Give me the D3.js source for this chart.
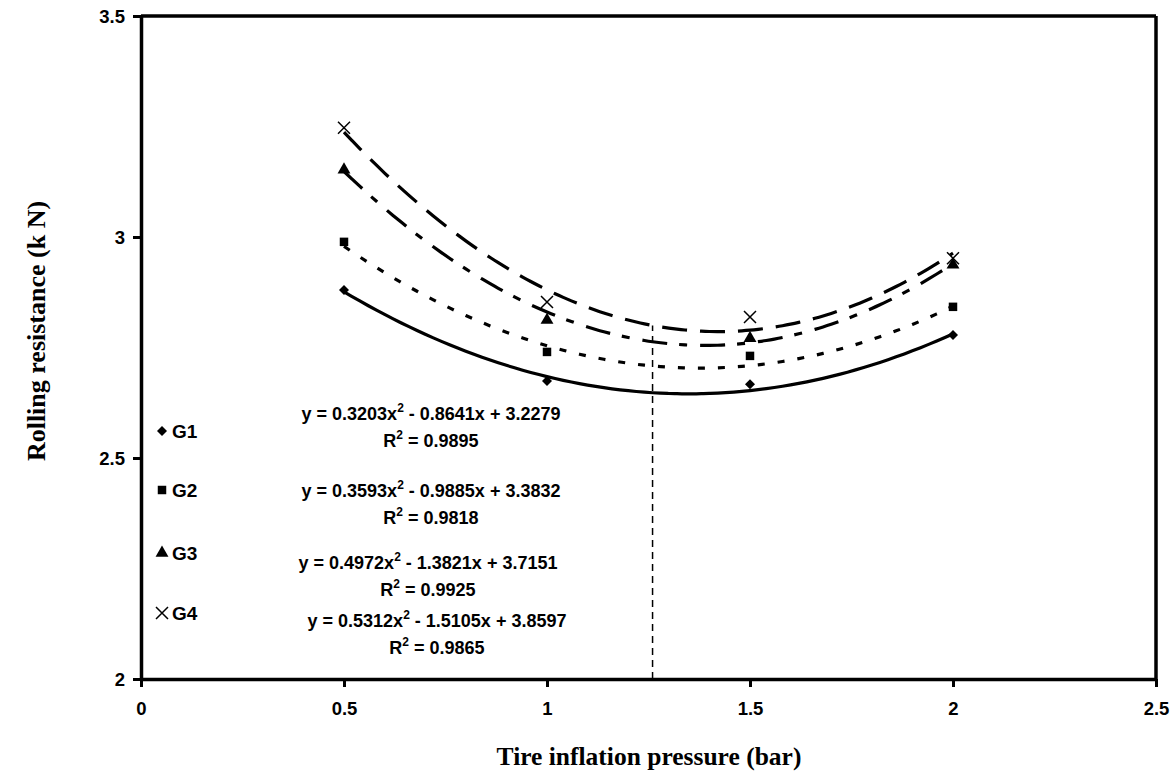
<!DOCTYPE html>
<html>
<head>
<meta charset="utf-8">
<script src="https://cdn.jsdelivr.net/npm/d3@7"></script>
<style>
  html,body{margin:0;padding:0;background:#fff;}
  svg{display:block;}
  .tick text{font-family:Arial,"Liberation Sans",sans-serif;font-weight:bold;font-size:18.5px;fill:#000;}
</style>
</head>
<body>
<div id="chart"></div>
<script>
// ---- data ----
const pressure = [0.5, 1, 1.5, 2];
const seriesNames = ["G1", "G2", "G3", "G4"];
const g1 = [2.880, 2.674, 2.667, 2.778];
const g2 = [2.989, 2.740, 2.731, 2.842];
const g3 = [3.152, 2.812, 2.771, 2.937];
const g4 = [3.247, 2.853, 2.819, 2.952];
// trend coefficients a,b,c (y = a x^2 + b x + c) and R^2 as printed
const coefA = [0.3203, 0.3593, 0.4972, 0.5312];
const coefB = [-0.8641, -0.9885, -1.3821, -1.5105];
const coefC = [3.2279, 3.3832, 3.7151, 3.8597];
const rSquared = [0.9895, 0.9818, 0.9925, 0.9865];
const xTicks = [0, 0.5, 1, 1.5, 2, 2.5];
const yTicks = [2, 2.5, 3, 3.5];
const optimumX = 1.26, optimumTop = 2.8;

const W = 1175, H = 783;
const MG = {t:16, r:19, b:104, l:141};
const iW = W - MG.l - MG.r, iH = H - MG.t - MG.b;

const svg = d3.select("#chart").append("svg").attr("width", W).attr("height", H);
const g = svg.append("g").attr("transform", `translate(${MG.l},${MG.t})`);

const x = d3.scaleLinear().domain([0, 2.5]).range([0, iW]);
const y = d3.scaleLinear().domain([2, 3.5]).range([iH, 0]);

// frame (top + right)
g.append("line").attr("x1",0).attr("x2",iW).attr("y1",0).attr("y2",0)
  .attr("stroke","#000").attr("stroke-width",3.5);
g.append("line").attr("x1",iW).attr("x2",iW).attr("y1",0).attr("y2",iH)
  .attr("stroke","#000").attr("stroke-width",3.5);

// axes
const xa = g.append("g").attr("transform",`translate(0,${iH})`)
  .call(d3.axisBottom(x).tickValues(xTicks).tickSize(8).tickSizeOuter(0).tickPadding(15).tickFormat(d=>d));
const ya = g.append("g")
  .call(d3.axisLeft(y).tickValues(yTicks).tickSize(8).tickSizeOuter(0).tickPadding(8).tickFormat(d=>d));
[xa, ya].forEach(a => {
  a.select(".domain").attr("stroke-width",3.5);
  a.selectAll(".tick line").attr("stroke-width",3);
});
ya.selectAll(".tick text").attr("dy","0.36em");

// optimum marker line
g.append("line")
  .attr("x1",x(optimumX)).attr("x2",x(optimumX))
  .attr("y1",y(2)).attr("y2",y(optimumTop))
  .attr("stroke","#000").attr("stroke-width",1.5).attr("stroke-dasharray","7,5");

// trend lines
const dashes = [null, "7,13", "25,12,8,13", "25,13"];
const xs = d3.range(0.5, 2.0001, 0.02);
coefA.forEach((a, i) => {
  const pts = xs.map(v => [v, a*v*v + coefB[i]*v + coefC[i]]);
  g.append("path").datum(pts)
    .attr("fill","none").attr("stroke","#000").attr("stroke-width",3.2)
    .attr("stroke-dasharray", dashes[i])
    .attr("d", d3.line().x(d=>x(d[0])).y(d=>y(d[1])).curve(d3.curveBasis));
});

// markers
function marker(sel, k) {
  if (k === 0) sel.append("path").attr("d", d3.symbol(d3.symbolSquare, 50)()).attr("transform","rotate(45)").attr("fill","#000");
  else if (k === 1) sel.append("path").attr("d", d3.symbol(d3.symbolSquare, 72)()).attr("fill","#000");
  else if (k === 2) sel.append("path").attr("d", d3.symbol(d3.symbolTriangle, 72)()).attr("fill","#000");
  else sel.append("path").attr("d","M-6,-6L6,6M-6,6L6,-6").attr("stroke","#000").attr("stroke-width",1.5).attr("fill","none");
}
[g1, g2, g3, g4].forEach((vals, k) => {
  vals.forEach((v, j) => {
    const m = g.append("g").attr("transform",`translate(${x(pressure[j])},${y(v)})`);
    marker(m, k);
  });
});

// legend (left side, inside plot)
const legY = [438, 497, 560, 620];
seriesNames.forEach((n, k) => {
  const m = svg.append("g").attr("transform",`translate(162,${legY[k]-7})`);
  marker(m, k);
  svg.append("text").attr("x",172).attr("y",legY[k])
    .attr("font-family","Arial, 'Liberation Sans', sans-serif").attr("font-weight","bold").attr("font-size",19)
    .text(n);
});

// equations
const eqX = [431, 431, 428, 437];
const eqY = [420, 497, 569, 627];
coefA.forEach((a, i) => {
  const t = svg.append("text").attr("x",eqX[i]).attr("y",eqY[i]).attr("text-anchor","middle")
    .attr("font-family","Arial, 'Liberation Sans', sans-serif").attr("font-weight","bold").attr("font-size",18);
  t.append("tspan").text(`y = ${a.toFixed(4)}x`);
  t.append("tspan").attr("dy",-8).attr("font-size",12).text("2");
  t.append("tspan").attr("dy",8).text(` - ${Math.abs(coefB[i]).toFixed(4)}x + ${coefC[i].toFixed(4)}`);
  const r = svg.append("text").attr("x",eqX[i]).attr("y",eqY[i]+27).attr("text-anchor","middle")
    .attr("font-family","Arial, 'Liberation Sans', sans-serif").attr("font-weight","bold").attr("font-size",18);
  r.append("tspan").text("R");
  r.append("tspan").attr("dy",-8).attr("font-size",12).text("2");
  r.append("tspan").attr("dy",8).text(` = ${rSquared[i].toFixed(4)}`);
});

// axis titles
svg.append("text").attr("x",649).attr("y",765).attr("text-anchor","middle")
  .attr("font-family","'Times New Roman','Liberation Serif',serif").attr("font-weight","bold").attr("font-size",25.5)
  .text("Tire inflation pressure (bar)");
svg.append("text").attr("transform","translate(45,331) rotate(-90)").attr("text-anchor","middle")
  .attr("font-family","'Times New Roman','Liberation Serif',serif").attr("font-weight","bold").attr("font-size",26)
  .text("Rolling resistance (k N)");
</script>
</body>
</html>
